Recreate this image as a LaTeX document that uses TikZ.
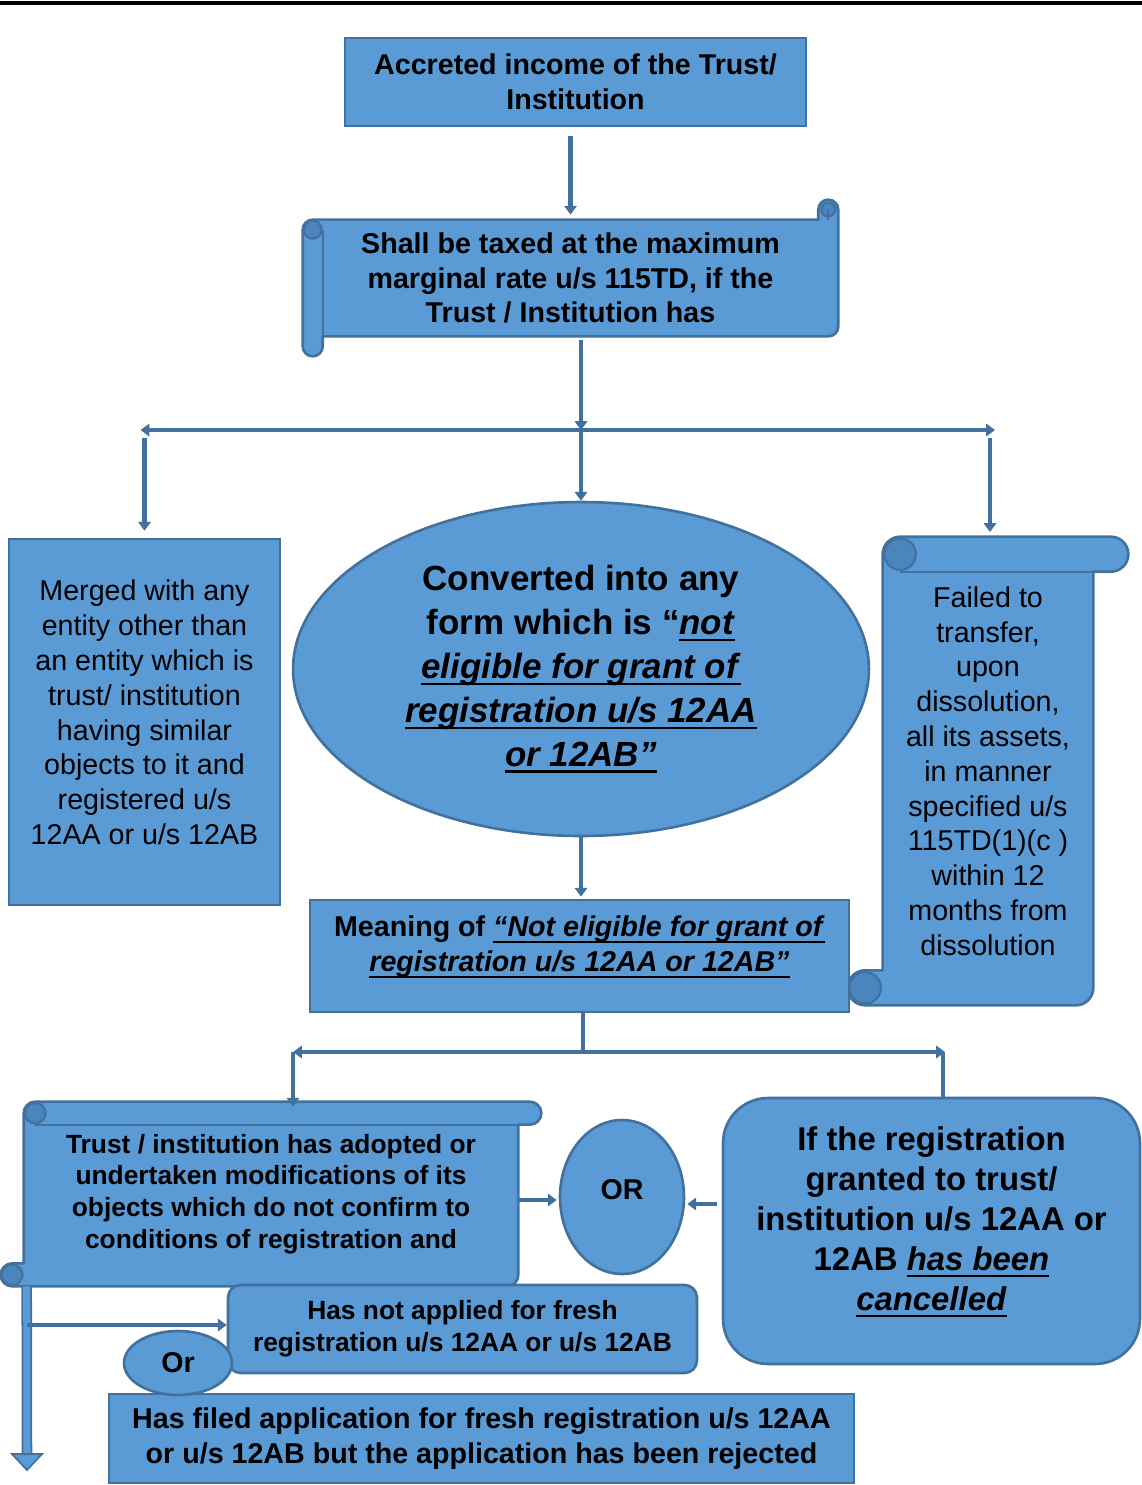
\documentclass[tikz,border=0pt]{standalone}
\usepackage{fontspec}
\setmainfont{Liberation Sans}
\usetikzlibrary{shapes.geometric, calc, arrows.meta, backgrounds}

\definecolor{fillblue}{HTML}{5B9BD5}
\definecolor{linedark}{HTML}{41719C}
\definecolor{curlblue}{HTML}{4A85BD}

% extra depth under the last line, lifts the text in its box
\newcommand\pad[1]{\rule[-#1]{0pt}{#1}}
% thick underline
\newcommand\uln[1]{\setbox0=\hbox{#1}\rlap{\rule[-3.7pt]{\wd0}{1.3pt}}\box0}

% horizontal scroll round a node: #1 node, #2 roll thickness, #3 half of it
\newcommand\hscroll[3]{%
  \begin{pgfonlayer}{background}
  \path[scroll] let \p1=(#1.north west), \p2=(#1.south east) in
    (\x1,{\y1-#2-#3}) arc[start angle=180, end angle=90, radius=#3]
    -- ({\x2-#2},{\y1-#2}) -- ({\x2-#2},{\y1-#3})
    arc[start angle=180, end angle=0, radius=#3]
    -- (\x2,{\y2+#2+#3}) arc[start angle=0, end angle=-90, radius=#3]
    -- ({\x1+#2},{\y2+#2}) -- ({\x1+#2},{\y2+#3})
    arc[start angle=0, end angle=-180, radius=#3] -- cycle;
  \path[curl] let \p1=(#1.north west), \p2=(#1.south east) in
    ({\x1+#3},{\y1-#2-#3}) circle[radius=#3*0.9]
    ({\x2-#3},{\y1-#3}) circle[radius=#3*0.7];
  \draw[scrolledge] let \p1=(#1.north west), \p2=(#1.south east) in
    ({\x1+#2},{\y1-#2-#3}) -- ({\x1+#2},{\y2+#2})
    ({\x2-#3},{\y1-#2}) -- ({\x2-#3},{\y1-#3});
  \end{pgfonlayer}}

% vertical scroll round a node: #1 node, #2 roll thickness, #3 half of it
\newcommand\vscroll[3]{%
  \begin{pgfonlayer}{background}
  \path[scroll] let \p1=(#1.north west), \p2=(#1.south east) in
    ({\x1+#2},{\y1-#3}) arc[start angle=180, end angle=90, radius=#3]
    -- ({\x2-#3},\y1) arc[start angle=90, end angle=-90, radius=#3]
    -- ({\x2-#2},{\y1-#2}) -- ({\x2-#2},{\y2+#3})
    arc[start angle=0, end angle=-90, radius=#3]
    -- ({\x1+#3},\y2) arc[start angle=-90, end angle=-270, radius=#3]
    -- ({\x1+#2},{\y2+#2}) -- cycle;
  \path[curl] let \p1=(#1.north west), \p2=(#1.south east) in
    ({\x1+#2+#3},{\y1-#3}) circle[radius=#3*0.9]
    ({\x1+#3},{\y2+#3}) circle[radius=#3*0.9];
  \draw[scrolledge] let \p1=(#1.north west), \p2=(#1.south east) in
    ({\x1+#2+#3},{\y1-#2}) -- ({\x2-#2},{\y1-#2});
  \end{pgfonlayer}}

\tikzset{
  box/.style={draw=linedark, fill=fillblue, line width=1.5pt, align=center, inner sep=0pt},
  oval/.style={box, ellipse},
  scrolltext/.style={align=center, inner sep=0pt},
  scroll/.style={draw=linedark, fill=fillblue, line width=1.5pt, line join=round},
  curl/.style={draw=linedark, fill=curlblue, line width=1.2pt},
  scrolledge/.style={draw=linedark, line width=1.2pt},
  conn/.style={draw=linedark, line width=2.3pt, -{Triangle[width=7pt, length=5pt]}},
  link/.style={draw=linedark, line width=2.3pt},
  boldtext/.style={font=\fontsize{16.3}{19.8}\selectfont\bfseries},
  normaltext/.style={font=\fontsize{16.3}{19.8}\selectfont},
  smalltext/.style={font=\fontsize{15}{18.1}\selectfont\bfseries}
}

\begin{document}
\begin{tikzpicture}[x=0.02cm, y=-0.02cm]
\useasboundingbox (0,0) rectangle (1142,1485);
\draw[line width=1.8pt] (0,3) -- (1142,3);

\node[box, boldtext, minimum width=9.22cm, minimum height=1.76cm] (accreted) at (575.5,82) {Accreted income of the Trust/\\Institution};

\node[scrolltext, boldtext, minimum width=10.7cm, minimum height=3.12cm] (taxed) at (570.5,278) {Shall be taxed at the maximum\\marginal rate u/s 115TD, if the\\Trust / Institution has};
\hscroll{taxed}{0.4cm}{0.2cm}

\node[box, normaltext, minimum width=5.42cm, minimum height=7.32cm] (merged) at (144.5,722) {Merged with any\\entity other than\\an entity which is\\trust/ institution\\having similar\\objects to it and\\registered u/s\\12AA or u/s 12AB\pad{11pt}};

\node[oval, font=\fontsize{19.9}{25}\selectfont\bfseries, minimum width=11.52cm, minimum height=6.68cm] (converted) at (581,669) {Converted into any\\form which is “\uln{\textit{not}}\\\uln{\textit{eligible for grant of}}\\\uln{\textit{registration u/s 12AA}}\\\uln{\textit{or 12AB”}}};

\node[scrolltext, normaltext, minimum width=5.6cm, minimum height=9.36cm] (failed) at (988,771) {Failed to\\transfer,\\upon\\dissolution,\\all its assets,\\in manner\\specified u/s\\115TD(1)(c )\\within 12\\months from\\dissolution};
\vscroll{failed}{0.7cm}{0.35cm}

\node[box, boldtext, minimum width=10.78cm, minimum height=2.24cm] (meaning) at (579.5,956) {Meaning of \uln{\textit{“Not eligible for grant of}}\\\uln{\textit{registration u/s 12AA or 12AB”}}\pad{14pt}};

\node[scrolltext, smalltext, minimum width=10.8cm, minimum height=3.68cm] (modified) at (271,1194) {Trust / institution has adopted or\\undertaken modifications of its\\objects which do not confirm to\\conditions of registration and};
\vscroll{modified}{0.46cm}{0.23cm}

\node[oval, boldtext, minimum width=2.48cm, minimum height=3.08cm] (orcirc) at (622,1197) {OR\pad{9pt}};

\node[box, rounded corners=0.9cm, font=\fontsize{18.7}{22.7}\selectfont\bfseries, minimum width=8.34cm, minimum height=5.32cm] (cancelled) at (931.5,1231) {If the registration\\granted to trust/\\institution u/s 12AA or\\12AB \uln{\textit{has been}}\\\uln{\textit{cancelled}}\pad{14pt}};

\node[box, rounded corners=0.25cm, smalltext, minimum width=9.38cm, minimum height=1.76cm] (notapplied) at (462.5,1329) {Has not applied for fresh\\registration u/s 12AA or u/s 12AB};

\node[box, boldtext, minimum width=14.9cm, minimum height=1.78cm] (rejected) at (481.5,1438.5) {Has filed application for fresh registration u/s 12AA\\or u/s 12AB but the application has been rejected};

\node[oval, boldtext, minimum width=2.16cm, minimum height=1.28cm] (orsmall) at (178,1363) {Or};

% connectors
\coordinate (fork1) at (581,430);
\coordinate (fork2) at (583,1052);
\coordinate (forkL) at (293,1052);
\coordinate (forkR) at (945,1052);
\coordinate (exit) at (27,1470);

\draw[conn] ($(taxed.north |- accreted.south)+(0,9)$) -- ($(taxed.north)+(0,15)$);
\draw[conn] ($(fork1 |- taxed.south)+(0,-16)$) -- (fork1);
\draw[conn] (fork1) -- ($(fork1 -| merged.north)+(-4,0)$);
\draw[conn] ($(fork1 -| merged.north)+(0,8)$) -- ($(merged.north)+(0,-7)$);
\draw[conn] (fork1) -- (converted.north);
\draw[conn] (fork1) -- ($(fork1 -| failed.north)+(7,0)$);
\draw[conn] ($(fork1 -| failed.north)+(2,8)$) -- ($(failed.north |- fork1)+(2,102)$);
\draw[conn] (converted.south) -- ($(converted.south |- meaning.north)+(0,-2)$);

\draw[link] (meaning.south -| fork2) -- (fork2);
\draw[conn] (fork2) -- (forkL);
\draw[conn] (fork2) -- (forkR);
\draw[conn] (forkL) -- ($(forkL |- modified.north)+(0,5)$);
\draw[link] ($(forkR)+(-2,0)$) -- ($(forkR |- cancelled.north)+(-2,0)$);

\draw[conn] ($(orcirc.west)+(-42,3)$) -- ($(orcirc.west)+(-2,3)$);
\draw[conn] ($(cancelled.west |- orcirc.east)+(-5,7)$) -- ($(orcirc.east)+(2,7)$);

\draw[draw=linedark, line width=1pt, double=fillblue, double distance=4pt] ($(modified.south west)+(26,0)$) -- ($(exit)+(0,-15)$);
\filldraw[fill=fillblue, draw=linedark, line width=1pt] ($(exit)+(-15,-16)$) -- (exit) -- ($(exit)+(15,-16)$) -- cycle;
\draw[conn] ($(exit |- notapplied.west)+(0,-4)$) -- ($(notapplied.west)+(0,-4)$);
\end{tikzpicture}
\end{document}
